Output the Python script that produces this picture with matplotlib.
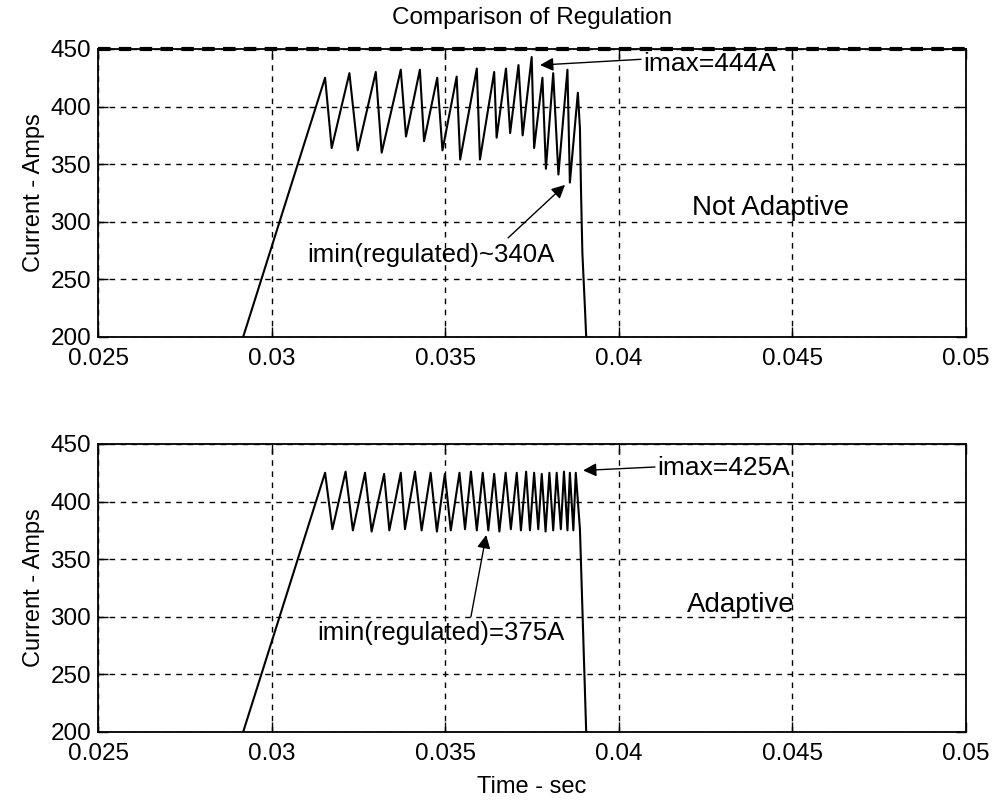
"""Comparison of current regulation: not adaptive vs adaptive hysteresis."""
import matplotlib
matplotlib.use("Agg")
import matplotlib.pyplot as plt

plt.rcParams["font.family"] = ["Liberation Sans", "DejaVu Sans"]

# --- data (time in s, current in A) ---
na_t = [0.02918, 0.03154, 0.03173, 0.03224, 0.03248, 0.03300, 0.03317,
        0.03372, 0.03387, 0.03427, 0.03439, 0.03477, 0.03492, 0.03533,
        0.03543, 0.03591, 0.03600, 0.03641, 0.03648, 0.03675, 0.03687,
        0.03711, 0.03723, 0.03749, 0.03756, 0.03780, 0.03790, 0.03811,
        0.03826, 0.03852, 0.03859, 0.03882, 0.03888, 0.03891, 0.03895,
        0.03903, 0.03906]
na_i = [200, 425, 364, 429, 362, 430, 360,
        432, 374, 432, 370, 425, 362, 426,
        354, 433, 354, 430, 373, 433, 377,
        436, 375, 443, 364, 425, 346, 429,
        341, 432, 334, 412, 381, 328, 273,
        221, 200]

ad_t = [0.02918, 0.03154, 0.03175, 0.03213, 0.03234, 0.03269, 0.03288,
        0.03324, 0.03339, 0.03372, 0.03384, 0.03413, 0.03432, 0.03458,
        0.03476, 0.03499, 0.03516, 0.03541, 0.03557, 0.03574, 0.03591,
        0.03608, 0.03624, 0.03641, 0.03656, 0.03674, 0.03689, 0.03706,
        0.03718, 0.03733, 0.03744, 0.03756, 0.03768, 0.03778, 0.03789,
        0.03800, 0.03811, 0.03821, 0.03833, 0.03842, 0.03852, 0.03859,
        0.03869, 0.03876, 0.03888, 0.03906]
ad_i = [200, 425, 376, 426, 375, 425, 374,
        424, 375, 425, 376, 426, 375, 425,
        374, 424, 375, 425, 376, 426, 375,
        425, 375, 424, 374, 425, 376, 425,
        375, 426, 375, 425, 376, 424, 374,
        425, 375, 425, 376, 426, 375, 425,
        375, 425, 376, 200]

x_ticks = [0.025, 0.03, 0.035, 0.04, 0.045, 0.05]
x_labels = ["0.025", "0.03", "0.035", "0.04", "0.045", "0.05"]
y_ticks = [200, 250, 300, 350, 400, 450]

fig = plt.figure(figsize=(9.95, 8.05), dpi=100)
ax1 = fig.add_axes([0.0985, 0.5814, 0.8724, 0.3578])
ax2 = fig.add_axes([0.0985, 0.0907, 0.8724, 0.3578])

for ax, t, i in [(ax1, na_t, na_i), (ax2, ad_t, ad_i)]:
    ax.plot(t, i, color="black", linewidth=1.5)
    ax.set_xlim(0.025, 0.05)
    ax.set_ylim(200, 450)
    ax.set_xticks(x_ticks)
    ax.set_xticklabels(x_labels)
    ax.set_yticks(y_ticks)
    ax.grid(True, color="black", linestyle=(0, (4, 4)), linewidth=1)
    ax.tick_params(direction="in", length=7, width=1, top=True, right=True,
                   labelsize=17.5)
    ax.tick_params(axis="x", pad=8)
    ax.tick_params(axis="y", pad=5)
    for s in ax.spines.values():
        s.set_linewidth(1.3)
    ax.set_ylabel("Current - Amps", fontsize=17, labelpad=4)

# the top edge of the upper panel shows as a heavy dotted line
ax1.axhline(450, color="black", linestyle=(0, (3, 2)), linewidth=3,
            clip_on=False)

ax1.set_title("Comparison of Regulation", fontsize=17.5, pad=18)
ax2.set_xlabel("Time - sec", fontsize=17, labelpad=8)

arrow = dict(arrowstyle="-|>", color="black", lw=1, mutation_scale=20,
             shrinkA=0, shrinkB=0)

# top panel annotations
ax1.annotate("", xy=(0.03773, 436), xytext=(0.04064, 441), arrowprops=arrow)
ax1.text(0.0407, 437, "imax=444A", fontsize=19, ha="left", va="center")
ax1.annotate("", xy=(0.03845, 332), xytext=(0.03681, 286), arrowprops=arrow)
ax1.text(0.0346, 271, "imin(regulated)~340A", fontsize=18.5,
         ha="center", va="center")
ax1.text(0.04436, 312, "Not Adaptive", fontsize=20, ha="center", va="center")

# bottom panel annotations
ax2.annotate("", xy=(0.03897, 427), xytext=(0.04104, 430), arrowprops=arrow)
ax2.text(0.0411, 429, "imax=425A", fontsize=19, ha="left", va="center")
ax2.annotate("", xy=(0.03618, 371), xytext=(0.03574, 300), arrowprops=arrow)
ax2.text(0.03488, 286, "imin(regulated)=375A", fontsize=18.5,
         ha="center", va="center")
ax2.text(0.04352, 310, "Adaptive", fontsize=20, ha="center", va="center")

fig.savefig("out.png", dpi=100)
